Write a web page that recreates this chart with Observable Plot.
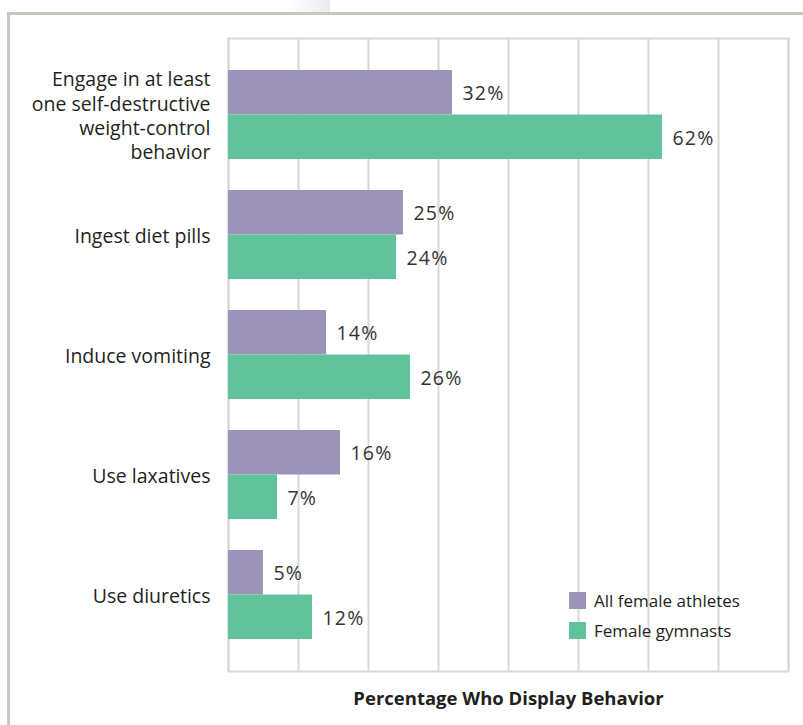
<!DOCTYPE html>
<html>
<head>
<meta charset="utf-8">
<script src="https://cdn.jsdelivr.net/npm/d3@7"></script>
<script src="https://cdn.jsdelivr.net/npm/@observablehq/plot@0.6"></script>
<style>
  html, body { margin: 0; padding: 0; background: #fff; }
  body { width: 803px; height: 725px; position: relative; overflow: hidden; font-family: "Open Sans", "Noto Sans", sans-serif; }
  #shade { position: absolute; left: 290px; top: 0; width: 40px; height: 12px; background: linear-gradient(to right, #fff, #ebebeb); }
  #border { position: absolute; left: 7px; top: 12px; width: 900px; height: 800px; border-left: 3px solid #cbc5bf; border-top: 3px solid #cbc5bf; }
  #chart { position: absolute; left: 0; top: 0; }
  #legend { position: absolute; left: 569px; top: 586px; font-size: 17px; color: #231f20; }
  .item { display: flex; align-items: center; height: 29.5px; }
  .sw { width: 17px; height: 17px; margin-right: 8px; }
</style>
</head>
<body>
<div id="shade"></div>
<div id="border"></div>
<div id="chart"></div>
<div id="legend"></div>
<script>
const categories = [
  "Engage in at least\none self-destructive\nweight-control\nbehavior",
  "Ingest diet pills",
  "Induce vomiting",
  "Use laxatives",
  "Use diuretics"
];
const series = ["All female athletes", "Female gymnasts"];
const athletes = [32, 25, 14, 16, 5];
const gymnasts = [62, 24, 26, 7, 12];
const colors = ["#9b93b8", "#61c39c"];
const xTicks = [0, 10, 20, 30, 40, 50, 60, 70, 80];
const xTitle = "Percentage Who Display Behavior";

const data = [];
categories.forEach((c, i) => {
  data.push({category: c, series: series[0], value: athletes[i]});
  data.push({category: c, series: series[1], value: gymnasts[i]});
});

const base = {
  width: 803,
  height: 725,
  marginLeft: 228,
  marginRight: 15,
  marginTop: 38,
  marginBottom: 54,
  style: {fontFamily: "'Open Sans', 'Noto Sans', sans-serif", background: "transparent"},
  x: {domain: [0, 80], axis: null},
  y: {domain: categories, padding: 0.26, axis: null},
  color: {domain: series, range: colors}
};

const probe = Plot.plot({...base, marks: [Plot.barX(data, {x: "value", y: "category"})]});
const bw = probe.scale("y").bandwidth;
const half = bw / 2;

const first = data.filter(d => d.series === series[0]);
const second = data.filter(d => d.series === series[1]);

const valueStyle = {textAnchor: "start", fontSize: 19.5, fill: "#333"};

const chart = Plot.plot({
  ...base,
  marks: [
    Plot.gridX(xTicks, {stroke: "#d8d8d8", strokeOpacity: 1, strokeWidth: 2}),
    Plot.frame({stroke: "#d8d8d8", strokeWidth: 2}),
    Plot.barX(first, {x: "value", y: "category", fill: "series", insetBottom: half, insetTop: 0}),
    Plot.barX(second, {x: "value", y: "category", fill: "series", insetTop: half, insetBottom: 0}),
    Plot.text(first, {x: "value", y: "category", text: d => d.value + "%", dy: -half / 2 + 1, dx: 10, ...valueStyle}),
    Plot.text(second, {x: "value", y: "category", text: d => d.value + "%", dy: half / 2 + 1, dx: 10, ...valueStyle}),
    Plot.text(categories, {y: d => d, text: d => d, frameAnchor: "left", textAnchor: "end", dx: -18, fontSize: 19.5, lineHeight: 1.25, fill: "#231f20"}),
    Plot.text([xTitle], {text: d => d, frameAnchor: "bottom", dy: 33, fontSize: 18.5, fontWeight: "bold", fill: "#231f20"})
  ]
});
d3.select(chart).selectAll("text")
  .filter(function() { return /%$/.test(this.textContent); })
  .style("letter-spacing", "1.2px");
document.getElementById("chart").appendChild(chart);

const legend = document.getElementById("legend");
series.forEach((s, i) => {
  const item = document.createElement("div");
  item.className = "item";
  const sw = document.createElement("div");
  sw.className = "sw";
  sw.style.background = colors[i];
  const label = document.createElement("span");
  label.textContent = s;
  item.appendChild(sw);
  item.appendChild(label);
  legend.appendChild(item);
});
</script>
</body>
</html>
